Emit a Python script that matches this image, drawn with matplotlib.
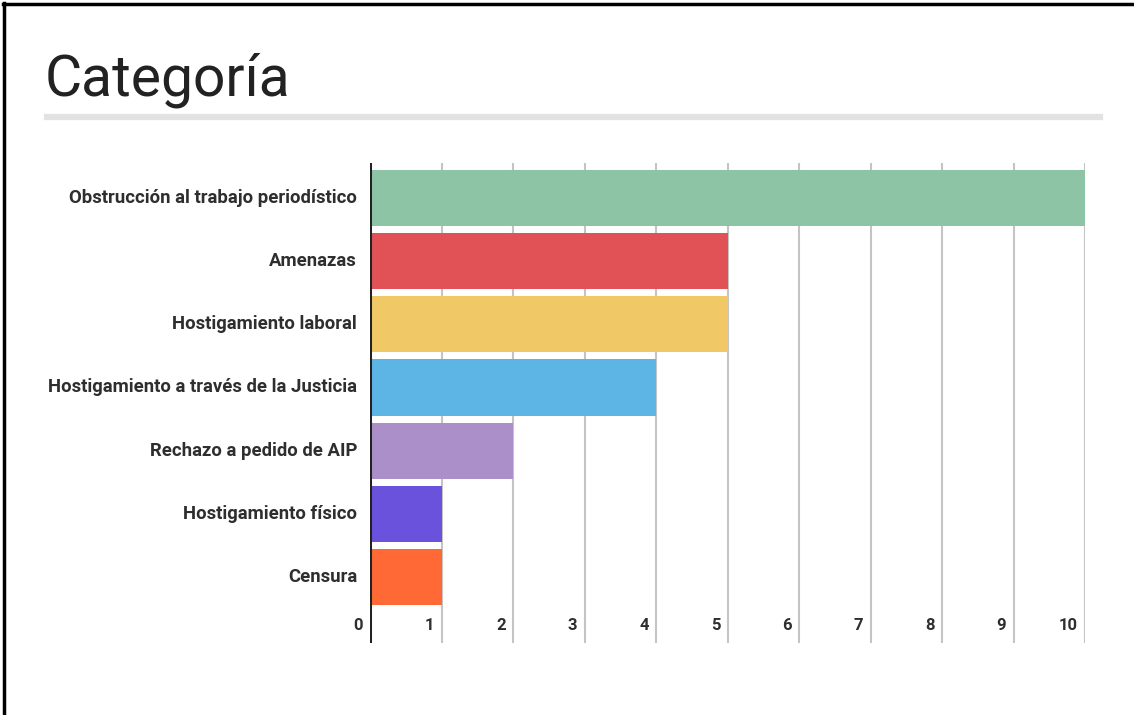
import matplotlib
matplotlib.use("Agg")
import matplotlib.pyplot as plt
from matplotlib.lines import Line2D
import matplotlib.transforms as mtransforms

categories = [
    "Obstrucción al trabajo periodístico",
    "Amenazas",
    "Hostigamiento laboral",
    "Hostigamiento a través de la Justicia",
    "Rechazo a pedido de AIP",
    "Hostigamiento físico",
    "Censura",
]
values = [10, 5, 5, 4, 2, 1, 1]
colors = ["#8dc4a6", "#e05256", "#f0c966", "#5cb5e5", "#ab8fc9", "#6b52dd", "#fe6935"]
x_ticks = [0, 1, 2, 3, 4, 5, 6, 7, 8, 9, 10]
title = "Categoría"

W, H = 1134, 715
fig = plt.figure(figsize=(W / 100, H / 100), dpi=100)
fig.patch.set_facecolor("white")

# axes box in pixels: x 370..1085, y 163..643
left, right, top, bottom = 370, 1085, 163, 643
ax = fig.add_axes([left / W, 1 - bottom / H, (right - left) / W, (bottom - top) / H])
ax.set_xlim(0, 10)
ax.set_ylim(len(categories) - 1 + 1.048, -0.556)
for s in ax.spines.values():
    s.set_visible(False)
ax.set_xticks([])
ax.set_yticks([])
ax.set_facecolor("none")

# vertical gridlines
for t in x_ticks[1:]:
    ax.axvline(t, color="#c4c4c4", lw=1.5, zorder=0)
ax.axvline(0, color="#222222", lw=2.2, zorder=3)

ypos = list(range(len(categories)))
ax.barh(ypos, values, height=0.89, color=colors, zorder=2)

text_color = "#2e2e2e"
font = ["Roboto", "DejaVu Sans"]
for y, c in zip(ypos, categories):
    ax.text(-0.18, y, c, ha="right", va="center", fontsize=13.3, color=text_color,
            family=font, fontweight="bold")

trans = mtransforms.blended_transform_factory(ax.transData, ax.transAxes)
for t in x_ticks:
    ax.text(t - 0.1, 0.021, str(t), transform=trans, ha="right", va="bottom",
            fontsize=12, color=text_color, family=font, fontweight="bold")

# title and rule below it
fig.text(45 / W, 1 - 96 / H, title, ha="left", va="baseline", fontsize=41,
         color="#222222", family=font, fontweight="normal")
fig.add_artist(Line2D([47 / W, 1100 / W], [1 - 117 / H, 1 - 117 / H],
                      color="#e2e2e2", lw=4.5, transform=fig.transFigure))

# frame on left and top
fig.add_artist(Line2D([4 / W, 4 / W], [0, 1 - 3 / H], color="black", lw=2.5,
                      transform=fig.transFigure))
fig.add_artist(Line2D([3 / W, 1], [1 - 4 / H, 1 - 4 / H], color="black", lw=2.5,
                      transform=fig.transFigure))

fig.savefig("out.png", dpi=100, facecolor="white")
